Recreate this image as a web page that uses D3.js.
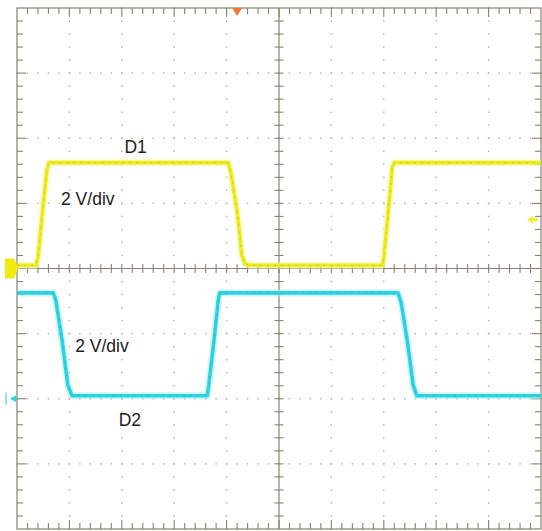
<!DOCTYPE html>
<html>
<head>
<meta charset="utf-8">
<script src="https://cdn.jsdelivr.net/npm/d3@7"></script>
<style>
  html, body { margin: 0; padding: 0; background: #ffffff; }
  svg { display: block; }
  text { font-family: "Liberation Sans", Arial, sans-serif; }
</style>
</head>
<body>
<div id="chart"></div>
<script>
// ---- Data (time in divisions, voltage in volts) ----
const hDivs = [0, 1, 2, 3, 4, 5, 6, 7, 8, 9, 10];     // horizontal major divisions
const vDivs = [-4, -3, -2, -1, 0, 1, 2, 3, 4];         // vertical major divisions
const voltsPerDiv = 2;

const d1Time  = [0, 0.36, 0.40, 0.48, 0.57, 0.61, 4.03, 4.08, 4.21, 4.29, 4.35, 4.45, 6.97, 7.00, 7.08, 7.16, 7.20, 10];
const d1Volts = [0.1, 0.1, 0.32, 1.65, 3.03, 3.25, 3.25, 2.96, 1.65, 0.41, 0.14, 0.1, 0.1, 0.32, 1.65, 3.09, 3.25, 3.25];

const d2Time  = [0, 0.69, 0.74, 0.86, 0.97, 1.05, 3.63, 3.66, 3.76, 3.84, 3.87, 7.27, 7.33, 7.46, 7.56, 7.63, 10];
const d2Volts = [3.25, 3.25, 3.03, 1.80, 0.42, 0.09, 0.09, 0.42, 1.80, 3.03, 3.25, 3.25, 2.97, 1.65, 0.42, 0.09, 0.09];

const d1GroundDiv = 0;     // channel 1 ground position (divisions from center)
const d2GroundDiv = -2;    // channel 2 ground position
const triggerTime = 4.2;   // trigger position (div)
const triggerLevel = 1.5;  // volts, channel 1

const labels = [
  { text: "D1",      t: 2.05, v: 3.55, ch: 1 },
  { text: "2 V/div", t: 0.84, v: 1.95, ch: 1 },
  { text: "2 V/div", t: 1.11, v: 1.44, ch: 2 },
  { text: "D2",      t: 1.94, v: -0.85, ch: 2 }
];

// ---- Layout ----
const W = 542, H = 531;
const mL = 17, mR = 541, mT = 8, mB = 529;

const svg = d3.select("#chart").append("svg").attr("width", W).attr("height", H);

const x = d3.scaleLinear().domain([0, 10]).range([mL, mR]);
const yDiv = d3.scaleLinear().domain([-4, 4]).range([mB, mT]);
const y1 = d3.scaleLinear()
  .domain([(-4 - d1GroundDiv) * voltsPerDiv, (4 - d1GroundDiv) * voltsPerDiv]).range([mB, mT]);
const y2 = d3.scaleLinear()
  .domain([(-4 - d2GroundDiv) * voltsPerDiv, (4 - d2GroundDiv) * voltsPerDiv]).range([mB, mT]);

const frameColor = "#868170";
const dotColor = "#b4b4ae";

// ---- Dotted graticule ----
const g = svg.append("g");
const hMinor = d3.range(0, 50.001, 1).map(i => i / 5);   // 0..10 step 0.2
const vMinor = d3.range(-20, 20.001, 1).map(i => i / 5);  // -4..4 step 0.2

const dots = [];
hDivs.slice(1, -1).forEach(t => { if (t !== 5) vMinor.forEach(v => dots.push([t, v])); });
vDivs.slice(1, -1).forEach(v => { if (v !== 0) hMinor.forEach(t => dots.push([t, v])); });
g.selectAll("rect.dot").data(dots).join("rect")
  .attr("class", "dot")
  .attr("x", d => x(d[0]) - 0.75).attr("y", d => yDiv(d[1]) - 0.75)
  .attr("width", 1.5).attr("height", 1.5)
  .attr("fill", dotColor);

// ---- Frame and center axes ----
g.append("rect").attr("x", mL).attr("y", mT)
  .attr("width", mR - mL).attr("height", mB - mT)
  .attr("fill", "none").attr("stroke", frameColor).attr("stroke-width", 1.2);
g.append("line").attr("x1", x(5)).attr("x2", x(5)).attr("y1", mT).attr("y2", mB)
  .attr("stroke", frameColor).attr("stroke-width", 1.2);
g.append("line").attr("x1", mL).attr("x2", mR).attr("y1", yDiv(0)).attr("y2", yDiv(0))
  .attr("stroke", frameColor).attr("stroke-width", 1.2);

// ticks along borders and centre lines
const tickH = hMinor.slice(1, -1);
const tickV = vMinor.slice(1, -1);
const isMajor = v => Math.abs(v - Math.round(v)) < 1e-6;
const ticks = [];
tickH.forEach(t => {
  const len = isMajor(t) ? 9 : 6;
  ticks.push([x(t), mT, x(t), mT + len]);
  ticks.push([x(t), mB, x(t), mB - len]);
  ticks.push([x(t), yDiv(0) - 4.5, x(t), yDiv(0) + 4.5]);
});
tickV.forEach(v => {
  const len = isMajor(v) ? 9 : 6;
  ticks.push([mL, yDiv(v), mL + len, yDiv(v)]);
  ticks.push([mR, yDiv(v), mR - len, yDiv(v)]);
  ticks.push([x(5) - 4.5, yDiv(v), x(5) + 4.5, yDiv(v)]);
});
g.selectAll("line.tick").data(ticks).join("line")
  .attr("class", "tick")
  .attr("x1", d => d[0]).attr("y1", d => d[1]).attr("x2", d => d[2]).attr("y2", d => d[3])
  .attr("stroke", frameColor).attr("stroke-width", 1.1);

// ---- Traces ----
function drawTrace(times, volts, yScale, core, halo, dark) {
  const pts = times.map((t, i) => [t, volts[i]]);
  const line = d3.line().x(d => x(d[0])).y(d => yScale(d[1])).curve(d3.curveLinear);
  svg.append("path").attr("d", line(pts)).attr("fill", "none")
    .attr("stroke", halo).attr("stroke-width", 7).attr("stroke-linejoin", "round").attr("opacity", 0.55);
  svg.append("path").attr("d", line(pts)).attr("fill", "none")
    .attr("stroke", core).attr("stroke-width", 3.6).attr("stroke-linejoin", "round");
  svg.append("path").attr("d", line(pts)).attr("fill", "none")
    .attr("stroke", dark).attr("stroke-width", 0.9).attr("stroke-linejoin", "round")
    .attr("stroke-dasharray", "2 5").attr("opacity", 0.45);
}
drawTrace(d1Time, d1Volts, y1, "#ecec1c", "#f4f4a0", "#9a9a20");
drawTrace(d2Time, d2Volts, y2, "#2ed4e2", "#a6ecf2", "#2a8a90");

// ---- Markers ----
// trigger position (orange, top)
const tx = x(triggerTime);
svg.append("path")
  .attr("d", `M${tx - 5},${mT} L${tx + 5},${mT} L${tx},${mT + 8} Z`)
  .attr("fill", "#f07838");

// channel 1 ground marker (yellow, left)
const g1 = y1(0);
svg.append("path")
  .attr("d", `M5,${g1 - 10} L14,${g1 - 10} L18,${g1} L14,${g1 + 10} L5,${g1 + 10} Z`)
  .attr("fill", "#f0ec10");

// channel 2 ground marker (cyan, left)
const g2 = y2(0);
svg.append("line").attr("x1", 6).attr("x2", 6).attr("y1", g2 - 6).attr("y2", g2 + 6)
  .attr("stroke", "#4cd8e4").attr("stroke-width", 1.3);
svg.append("path")
  .attr("d", `M10,${g2} L16,${g2 - 3.5} L16,${g2 + 3.5} Z`)
  .attr("fill", "#2ed4e2");
svg.append("line").attr("x1", 14).attr("x2", mL).attr("y1", g2).attr("y2", g2)
  .attr("stroke", "#2ed4e2").attr("stroke-width", 1.5);

// trigger level marker (yellow, right)
const tl = y1(triggerLevel);
svg.append("path")
  .attr("d", `M527,${tl} L533,${tl - 4} L533,${tl - 1.5} L538,${tl - 1.5} L538,${tl + 1.5} L533,${tl + 1.5} L533,${tl + 4} Z`)
  .attr("fill", "#eeee30");

// ---- Labels ----
svg.selectAll("text.lbl").data(labels).join("text")
  .attr("class", "lbl")
  .attr("x", d => x(d.t))
  .attr("y", d => (d.ch === 1 ? y1 : y2)(d.v))
  .attr("font-size", 17.5)
  .attr("fill", "#1c1c1c")
  .text(d => d.text);
</script>
</body>
</html>
